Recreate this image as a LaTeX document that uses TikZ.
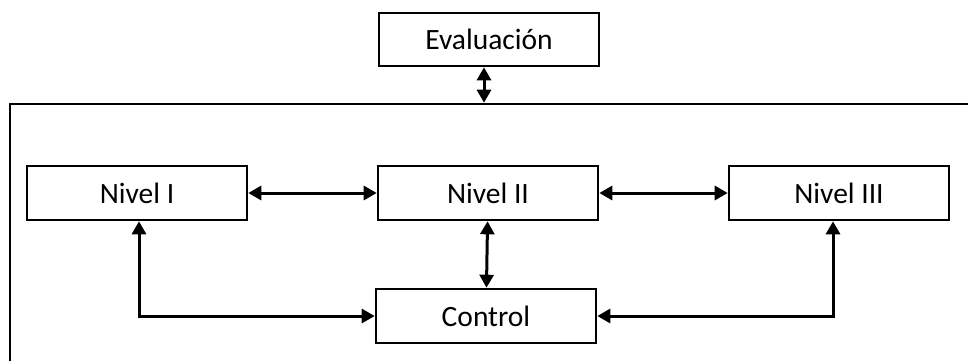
\documentclass[tikz,border=0pt]{standalone}
\usepackage{fontspec}
\setmainfont{Carlito}
\usepackage{tikz}
\usetikzlibrary{arrows.meta, positioning, calc}

\begin{document}
\begin{tikzpicture}[x=1pt, y=-1pt]

% Estilos
\tikzset{
    nivel/.style={rectangle, draw, line width=2.6pt, minimum width=220pt, minimum height=54pt, inner sep=0pt, font=\fontsize{29.5}{34}\selectfont},
    marco/.style={rectangle, draw, line width=2.6pt, minimum width=980pt, minimum height=276pt},
    arrow/.style={<->, >={Triangle[length=13pt, width=14pt]}, line width=3pt}
}

\useasboundingbox (0,0) rectangle (968,360);
\clip (0,0) rectangle (968,360);

% Nodos
\node (marco) [marco] at (500,242) {};
\node (evaluacion) [nivel, minimum height=53pt] at (489,39.5) {Evaluación};
\node (nivelI) [nivel] at (137,193) {Nivel I};
\node (nivelII) [nivel] at (488,193) {Nivel II};
\node (nivelIII) [nivel] at (839,193) {Nivel III};
\node (control) [nivel] at (486,316) {Control};

% Flechas
\draw [arrow] ([xshift=-5pt]evaluacion.south) -- ([xshift=-5pt]evaluacion.south |- marco.north);
\draw [arrow] (nivelI) -- (nivelII);
\draw [arrow] (nivelII) -- (nivelIII);
\draw [arrow] (nivelII) -- (control);
\draw [arrow] ([xshift=2pt]nivelI.south) |- (control.west);
\draw [arrow] ([xshift=-6pt]nivelIII.south) |- (control.east);

\end{tikzpicture}
\end{document}
